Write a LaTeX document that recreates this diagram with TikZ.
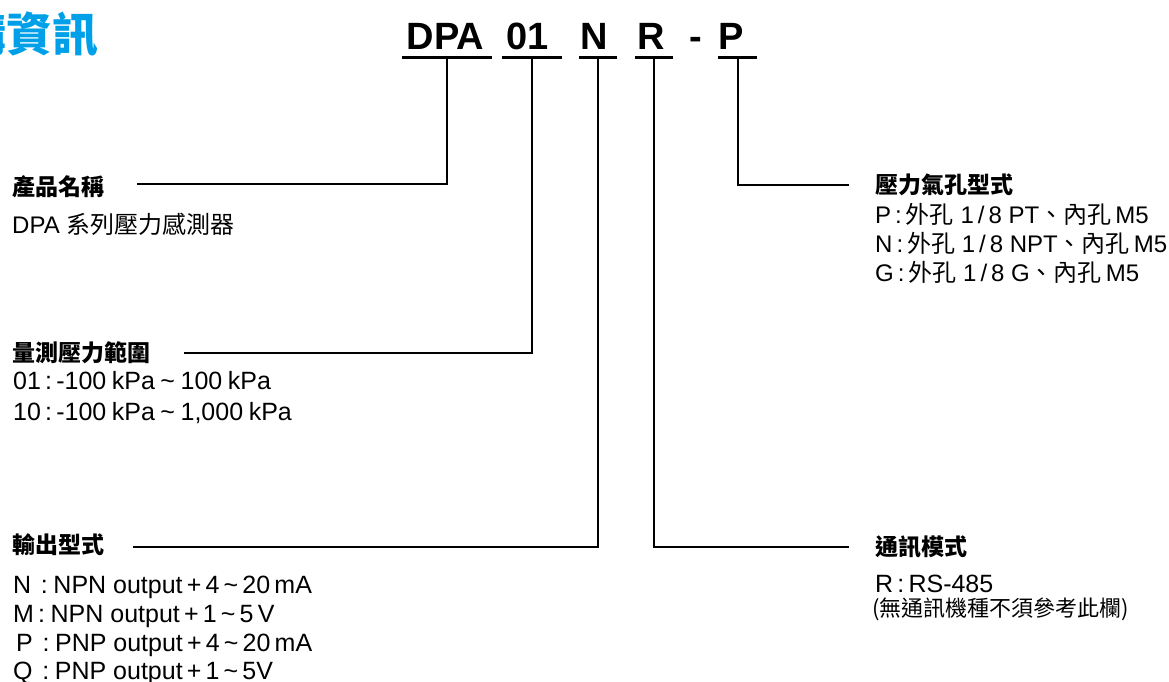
\documentclass[tikz,border=0pt]{standalone}
\usepackage{fontspec}
\setmainfont{Liberation Sans}
\newfontfamily\zh{Noto Sans CJK TC}
\definecolor{titleblue}{RGB}{0,160,233}
\tikzset{
  code/.style={font=\fontsize{38}{40}\selectfont\bfseries, inner sep=0pt, anchor=base},
  uline/.style={fill=black, inner sep=0pt, minimum height=3pt},
  head/.style={font=\fontsize{23}{26}\selectfont\zh\bfseries, inner sep=0pt, anchor=base west},
  body/.style={font=\fontsize{24}{26}\selectfont, inner sep=0pt, anchor=base west},
  bodyl/.style={body, font=\fontsize{25}{27}\selectfont},
  lead/.style={line width=2pt}
}
\begin{document}
\begin{tikzpicture}[x=1pt,y=-1pt]
        \useasboundingbox (0,0) rectangle (1169,682);
        \node[font=\fontsize{46}{48}\selectfont\zh\bfseries, text=titleblue, inner sep=0pt, anchor=base east] (title) at (99,52) {訂購資訊};
        % model code
        \node[code] (cDPA) at (445.5,50) {DPA};
        \node[code] (c01) at (527.5,50) {01};
        \node[code] (cN) at (594.5,50) {N};
        \node[code] (cR) at (651,50) {R};
        \node[code] (cDash) at (696,50) {-};
        \node[code] (cP) at (731,50) {P};
        \node[uline, minimum width=90pt] (uDPA) at (447,57.5) {};
        \node[uline, minimum width=60pt] (u01) at (532,57.5) {};
        \node[uline, minimum width=38pt] (uN) at (598,57.5) {};
        \node[uline, minimum width=38pt] (uR) at (654,57.5) {};
        \node[uline, minimum width=39pt] (uP) at (737.5,57.5) {};
        % leader ends
        \coordinate (eName) at (137,184);
        \coordinate (eRange) at (184,353);
        \coordinate (eOut) at (133,547);
        \coordinate (eComm) at (849,547);
        \coordinate (ePort) at (849,185);
        \draw[lead] (uDPA.south) |- (eName);
        \draw[lead] (u01.south) |- (eRange);
        \draw[lead] (uN.south) |- (eOut);
        \draw[lead] (uR.south) |- (eComm);
        \draw[lead] (uP.south) |- (ePort);
        % left side
        \node[head] (hName) at (12,195.5) {產品名稱};
        \node[body] (bName) at (12,233) {DPA {\zh 系列壓力感測器}};
        \node[head] (hRange) at (12,361) {量測壓力範圍};
        \node[bodyl] (bRange1) at (13,389) {01\,:\,-100\:kPa\:\textasciitilde\:100\:kPa};
        \node[bodyl] (bRange2) at (13,420) {10\,:\,-100\:kPa\:\textasciitilde\:1,000\:kPa};
        \node[head] (hOut) at (12,553.5) {輸出型式};
        \node[bodyl] (bOut1) at (13,593) {N\:\,:\:NPN output\,+\,4\,\textasciitilde\,20\,mA};
        \node[bodyl] (bOut2) at (13,622) {M\,:\:NPN output\,+\,1\,\textasciitilde\,5\,V};
        \node[bodyl] (bOut3) at (16,651) {P\:\,:\:PNP output\,+\,4\,\textasciitilde\,20\,mA};
        \node[bodyl] (bOut4) at (13,679) {Q\:\,:\:PNP output\,+\,1\,\textasciitilde\,5V};
        % right side
        \node[head] (hPort) at (875,193.5) {壓力氣孔型式};
        \node[body] (bPort1) at (875,223) {P\,:\,{\zh 外孔} 1\,/\,8 PT{\zh 、內孔}\,M5};
        \node[body] (bPort2) at (875,252) {N\,:\,{\zh 外孔} 1\,/\,8 NPT{\zh 、內孔}\,M5};
        \node[body] (bPort3) at (875,281) {G\,:\,{\zh 外孔} 1\,/\,8 G{\zh 、內孔}\,M5};
        \node[head] (hComm) at (875,555.5) {通訊模式};
        \node[bodyl] (bComm1) at (875,592) {R\,:\,RS-485};
        \node[body, font=\fontsize{22}{24}\selectfont\zh] (bComm2) at (872,616) {(無通訊機種不須參考此欄)};
\end{tikzpicture}
\end{document}
